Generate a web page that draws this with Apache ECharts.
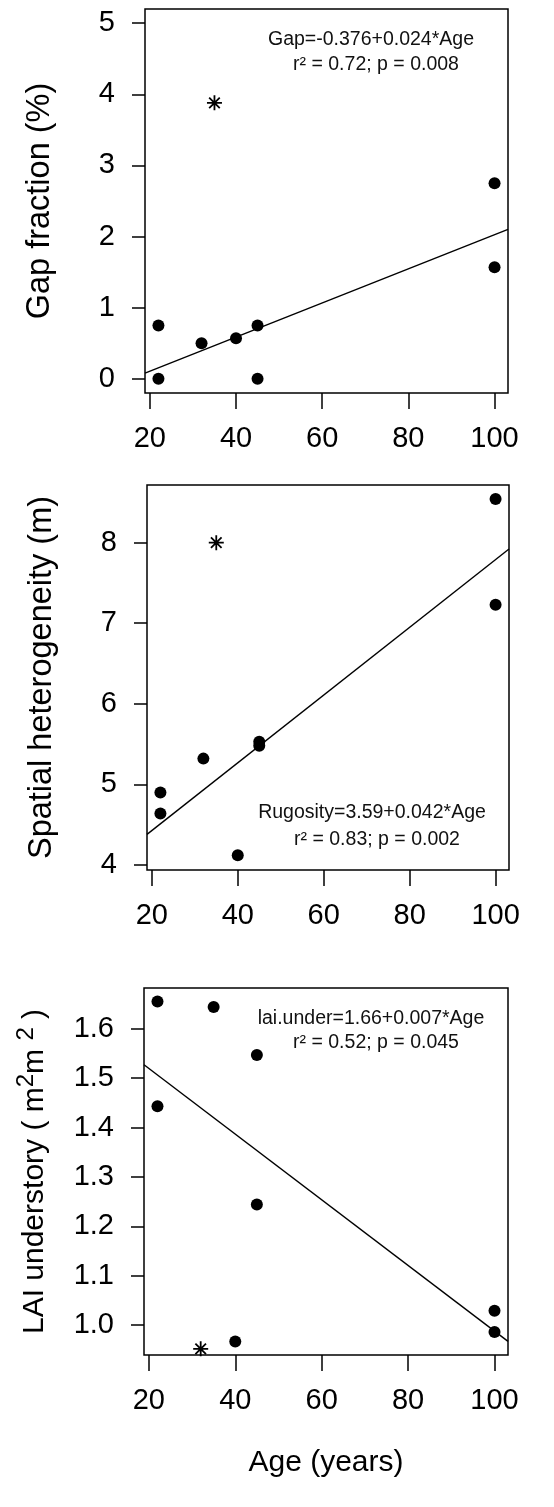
<!DOCTYPE html>
<html>
<head>
<meta charset="utf-8">
<script src="https://cdn.jsdelivr.net/npm/echarts@6/dist/echarts.min.js"></script>
<style>
html,body{margin:0;padding:0;background:#fff;}
#chart{width:554px;height:1507px;}
</style>
</head>
<body>
<div id="chart"></div>
<script>
// ---- data ----
const xTicks = [20, 40, 60, 80, 100];
const xRange = [18.88, 103.12];

// Panel 1: gap fraction
const gapAge = [22, 22, 32, 40, 45, 45, 100, 100];
const gapVal = [0.75, 0.0, 0.5, 0.57, 0.75, 0.0, 2.75, 1.57];
const gapStar = [[35, 3.88]];
const gapFitX = [18.88, 103.12];
const gapFitY = [0.08, 2.10];
const gapYTicks = [0, 1, 2, 3, 4, 5];
const gapYRange = [-0.2, 5.2];
const gapEq = ['Gap=-0.376+0.024*Age', 'r² = 0.72; p = 0.008'];

// Panel 2: spatial heterogeneity (rugosity)
const rugAge = [22, 22, 32, 40, 45, 45, 100, 100];
const rugVal = [4.90, 4.64, 5.32, 4.12, 5.53, 5.48, 8.54, 7.23];
const rugStar = [[35, 8.0]];
const rugFitX = [18.88, 103.12];
const rugFitY = [4.38, 7.92];
const rugYTicks = [4, 5, 6, 7, 8];
const rugYRange = [3.938, 8.715];
const rugEq = ['Rugosity=3.59+0.042*Age', 'r² = 0.83; p = 0.002'];

// Panel 3: LAI understory
const laiAge = [22, 22, 35, 40, 45, 45, 100, 100];
const laiVal = [1.655, 1.443, 1.644, 0.967, 1.547, 1.244, 1.029, 0.986];
const laiStar = [[32, 0.952]];
const laiFitX = [18.88, 103.12];
const laiFitY = [1.527, 0.967];
const laiYTicks = [1.0, 1.1, 1.2, 1.3, 1.4, 1.5, 1.6];
const laiYRange = [0.9395, 1.6825];
const laiEq = ['lai.under=1.66+0.007*Age', 'r² = 0.52; p = 0.045'];

// ---- styling / layout ----
const FONT = '"Liberation Sans", Arial, Helvetica, sans-serif';
const INK = '#000';
const grids = [
  {left: 145, top: 9, width: 363, height: 384},
  {left: 147, top: 485, width: 362, height: 385},
  {left: 144, top: 988, width: 364, height: 367}
];
const zip = (a, b) => a.map((v, i) => [v, b[i]]);
const asteriskPath = 'path://M10 0 L10 20 M0 10 L20 10 M2.93 2.93 L17.07 17.07 M2.93 17.07 L17.07 2.93';

function xAxis(i, withName) {
  return {
    type: 'value', gridIndex: i, min: xRange[0], max: xRange[1],
    axisLine: {show: false, onZero: false},
    splitLine: {show: false},
    axisTick: {show: true, length: 16, customValues: xTicks, lineStyle: {color: INK, width: 1.5}},
    axisLabel: {customValues: xTicks, fontSize: 29, color: INK, fontFamily: FONT, margin: 31},
    name: withName ? 'Age (years)' : '',
    nameLocation: 'middle', nameGap: 93,
    nameTextStyle: {fontSize: 30, color: INK, fontFamily: FONT}
  };
}
function yAxis(i, range, ticks, name, fmt, fs, rich) {
  return {
    type: 'value', gridIndex: i, min: range[0], max: range[1],
    axisLine: {show: false, onZero: false},
    splitLine: {show: false},
    axisTick: {show: true, length: 13, customValues: ticks, lineStyle: {color: INK, width: 1.5}},
    axisLabel: {customValues: ticks, fontSize: 29, color: INK, fontFamily: FONT, margin: 30,
      formatter: fmt},
    name: name, nameLocation: 'middle', nameGap: 88, nameRotate: 90,
    nameTextStyle: Object.assign({fontSize: fs, color: INK, fontFamily: FONT}, rich ? {rich: rich} : {})
  };
}
function pointSeries(i, data) {
  return {type: 'scatter', xAxisIndex: i, yAxisIndex: i, data: data, symbol: 'circle',
    symbolSize: 12, itemStyle: {color: '#000', opacity: 1}, silent: true, clip: true};
}
function starSeries(i, data) {
  return {type: 'scatter', xAxisIndex: i, yAxisIndex: i, data: data, symbol: asteriskPath,
    symbolSize: 15, itemStyle: {color: 'none', borderColor: '#000', borderWidth: 1.8, opacity: 1},
    silent: true, clip: true};
}
function fitSeries(i, xs, ys) {
  return {type: 'line', xAxisIndex: i, yAxisIndex: i, data: zip(xs, ys), showSymbol: false,
    symbol: 'none', lineStyle: {color: '#000', width: 1.4}, silent: true, clip: true};
}
function eqText(cx, cy, txt) {
  return {type: 'text', x: cx, y: cy, silent: true,
    style: {text: txt, fill: '#111', fontSize: 19.5, fontFamily: FONT, align: 'center', verticalAlign: 'middle'}};
}

const chart = echarts.init(document.getElementById('chart'), null, {renderer: 'canvas'});
chart.setOption({
  animation: false,
  backgroundColor: '#fff',
  grid: grids.map(g => Object.assign({show: true, borderColor: '#000', borderWidth: 1.5,
    backgroundColor: 'transparent', containLabel: false}, g)),
  xAxis: [xAxis(0, false), xAxis(1, false), xAxis(2, true)],
  yAxis: [
    yAxis(0, gapYRange, gapYTicks, 'Gap fraction (%)', v => String(v), 32.5),
    yAxis(1, rugYRange, rugYTicks, 'Spatial heterogeneity (m)', v => String(v), 32.5),
    yAxis(2, laiYRange, laiYTicks, '{n|LAI understory ( m}{s|2}{n|m }{s|2}{n| )}', v => Number(v).toFixed(1), 30,
      {n: {fontSize: 30, lineHeight: 42, color: INK, fontFamily: FONT},
       s: {fontSize: 24, lineHeight: 24, verticalAlign: 'top', color: INK, fontFamily: FONT}})
  ],
  series: [
    fitSeries(0, gapFitX, gapFitY), pointSeries(0, zip(gapAge, gapVal)), starSeries(0, gapStar),
    fitSeries(1, rugFitX, rugFitY), pointSeries(1, zip(rugAge, rugVal)), starSeries(1, rugStar),
    fitSeries(2, laiFitX, laiFitY), pointSeries(2, zip(laiAge, laiVal)), starSeries(2, laiStar)
  ],
  graphic: [
    eqText(371, 40, gapEq[0]), eqText(376, 65, gapEq[1]),
    eqText(372, 813, rugEq[0]), eqText(377, 840, rugEq[1]),
    eqText(371, 1019, laiEq[0]), eqText(376, 1043, laiEq[1])
  ]
});
</script>
</body>
</html>
